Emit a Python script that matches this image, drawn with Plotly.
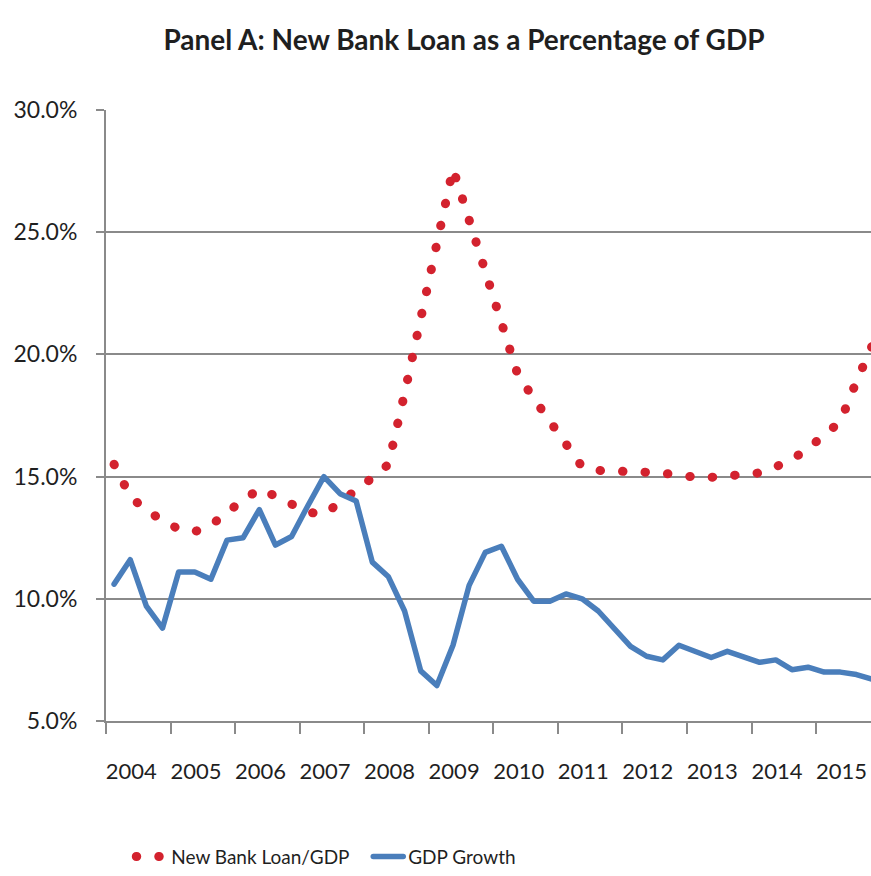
import plotly.graph_objects as go

# Quarterly data 2004Q1 .. 2015Q4 (values in %)
years = [str(y) for y in range(2004, 2016)]
quarter_index = list(range(48))

new_bank_loan_gdp = [
    15.5, 14.2, 13.6, 13.25, 12.85, 12.75, 13.0, 13.55,
    14.0, 14.5, 14.2, 13.9, 13.55, 13.45, 13.9, 14.45,
    14.95, 15.5, 18.4, 21.4, 24.5, 27.6, 25.5, 23.4,
    21.3, 19.2, 18.2, 17.3, 16.3, 15.4, 15.25, 15.25,
    15.2, 15.18, 15.14, 15.05, 14.98, 14.97, 15.02, 15.1,
    15.15, 15.4, 15.7, 16.15, 16.65, 17.25, 18.9, 20.4,
]

gdp_growth = [
    10.6, 11.6, 9.7, 8.8, 11.1, 11.1, 10.8, 12.4,
    12.5, 13.65, 12.2, 12.55, 13.8, 15.0, 14.3, 14.0,
    11.5, 10.9, 9.5, 7.05, 6.45, 8.1, 10.55, 11.9,
    12.15, 10.8, 9.9, 9.9, 10.2, 10.0, 9.5, 8.8,
    8.05, 7.65, 7.5, 8.1, 7.85, 7.6, 7.85, 7.65,
    7.4, 7.5, 7.1, 7.2, 7.0, 7.0, 6.9, 6.7,
]

y_ticks = [5, 10, 15, 20, 25, 30]

FONT = "Lato, sans-serif"
TXT = "#1f1f1f"
GRID = "#8a8a8a"

year_centers = [4 * k + 1.5 - 0.43 for k in range(len(years))]
year_bounds = [4 * k - 0.5 for k in range(len(years) + 1)]

fig = go.Figure()
fig.add_trace(go.Scatter(
    x=quarter_index, y=new_bank_loan_gdp, mode="lines",
    name="New Bank Loan/GDP",
    line=dict(color="#D3222E", width=9, dash="0.5px,22px"),
))
fig.add_trace(go.Scatter(
    x=quarter_index, y=gdp_growth, mode="lines",
    name="GDP Growth",
    line=dict(color="#4A7EBB", width=5.5),
))

fig.update_layout(
    width=871, height=876,
    margin=dict(l=106, r=0, t=110, b=149),
    paper_bgcolor="white", plot_bgcolor="white",
    font=dict(family=FONT, color=TXT),
    title=dict(
        text="<b>Panel A: New Bank Loan as a Percentage of GDP</b>",
        x=464 / 871, xanchor="center", xref="container",
        y=1 - 40 / 876, yanchor="middle", yref="container",
        font=dict(size=28, family=FONT, color=TXT),
    ),
    showlegend=True,
    legend=dict(
        orientation="h", x=0.033, xanchor="left", y=-0.222, yanchor="middle",
        font=dict(size=19, family=FONT, color=TXT),
        entrywidth=192, entrywidthmode="pixels",
        bgcolor="rgba(0,0,0,0)",
    ),
)

fig.update_xaxes(
    range=[-0.5, 46.9],
    tickmode="array", tickvals=year_centers, ticktext=years,
    ticks="", ticklabelstandoff=30, ticklabeloverflow="allow",
    tickfont=dict(size=22, family=FONT, color=TXT),
    showgrid=False, zeroline=False,
    showline=True, linecolor=GRID, linewidth=2,
    minor=dict(tickmode="array", tickvals=year_bounds, ticks="outside",
               ticklen=11, tickwidth=2, tickcolor=GRID, showgrid=False),
)
fig.update_yaxes(
    range=[5, 30],
    tickmode="array", tickvals=y_ticks,
    ticktext=[f"{v:.1f}%" for v in y_ticks],
    ticks="outside", ticklen=8, tickwidth=2, tickcolor=GRID,
    ticklabelstandoff=14,
    tickfont=dict(size=23, family=FONT, color=TXT),
    showgrid=True, gridcolor=GRID, gridwidth=2,
    zeroline=False, showline=True, linecolor=GRID, linewidth=2,
)

post = """
var gd = document.getElementById('{plot_id}');
function roundCaps(){
  gd.querySelectorAll('path.js-line').forEach(function(p){ p.style.strokeLinecap = 'round'; p.style.strokeLinejoin = 'round'; });
}
roundCaps();
gd.on('plotly_afterplot', roundCaps);
"""

fig.write_html("out.html", post_script=post)
